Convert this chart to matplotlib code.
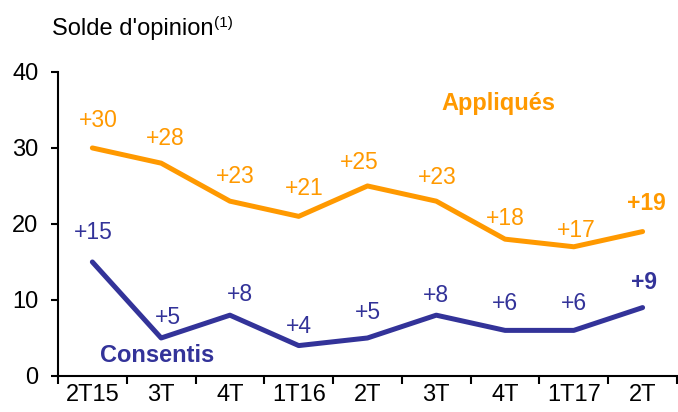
import matplotlib.pyplot as plt

plt.rcParams['font.family'] = ['Liberation Sans', 'DejaVu Sans']

categories = ["2T15", "3T", "4T", "1T16", "2T", "3T", "4T", "1T17", "2T"]
appliques = [30, 28, 23, 21, 25, 23, 18, 17, 19]
consentis = [15, 5, 8, 4, 5, 8, 6, 6, 9]

orange = "#FF9900"
blue = "#333399"

# label offsets in points (dx, dy)
off_app = [(4, 20), (3, 18), (4, 18), (4, 20), (-6, 17), (1, 17), (0, 15), (2, 12), (3, 20)]
off_con = [(1, 21), (5, 15), (7, 15), (0, 14), (0, 18), (0, 14), (0, 19), (0, 19), (1, 18)]


def draw():
    fig = plt.figure(figsize=(6.78, 4.12), dpi=100)
    ax = fig.add_axes([0.0855, 0.0874, 0.913, 0.738])

    x = list(range(len(categories)))
    ax.plot(x, appliques, color=orange, lw=3.6, solid_capstyle='round', solid_joinstyle='round')
    ax.plot(x, consentis, color=blue, lw=3.6, solid_capstyle='round', solid_joinstyle='round')

    last = len(categories) - 1
    for i, v in enumerate(appliques):
        ax.annotate("+%d" % v, (i, v), xytext=off_app[i], textcoords='offset points',
                    ha='center', va='center', fontsize=16.5, color=orange,
                    fontweight='bold' if i == last else 'normal')
    for i, v in enumerate(consentis):
        ax.annotate("+%d" % v, (i, v), xytext=off_con[i], textcoords='offset points',
                    ha='center', va='center', fontsize=16.5, color=blue,
                    fontweight='bold' if i == last else 'normal')

    ax.text(5.9, 35.9, "Appliqués", color=orange, fontsize=17, fontweight='bold', ha='center', va='center')
    ax.text(0.94, 2.76, "Consentis", color=blue, fontsize=17, fontweight='bold', ha='center', va='center')

    ax.set_xlim(-0.5, len(categories) - 0.5)
    ax.set_ylim(0, 40)
    ax.set_yticks([0, 10, 20, 30, 40])
    ax.set_xticks([i - 0.5 for i in range(len(categories) + 1)])
    ax.set_xticklabels([])
    ax.set_xticks(x, minor=True)
    ax.set_xticklabels(categories, minor=True)
    ax.tick_params(axis='x', which='major', length=6, width=1.5, direction='out')
    ax.tick_params(axis='x', which='minor', length=0, labelsize=17, pad=6)
    ax.tick_params(axis='y', length=5, width=1.5, labelsize=17, pad=9)

    for s in ['top', 'right']:
        ax.spines[s].set_visible(False)
    for s in ['left', 'bottom']:
        ax.spines[s].set_linewidth(1.5)

    # titre + exposant colle a la fin
    t = fig.text(0.077, 0.93, "Solde d'opinion", fontsize=17, va='center', ha='left')
    fig.canvas.draw()
    bb = t.get_window_extent().transformed(fig.transFigure.inverted())
    fig.text(bb.x1 + 0.001, 0.945, "(1)", fontsize=11, va='center', ha='left')

    fig.savefig("out.png", dpi=100)


if __name__ == '__main__':
    draw()
